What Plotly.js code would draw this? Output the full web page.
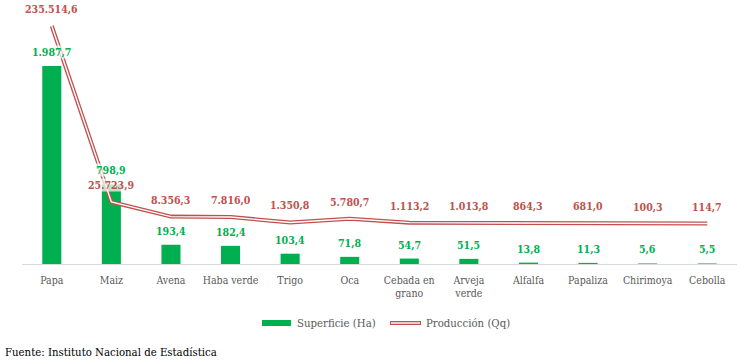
<!DOCTYPE html>
<html>
<head>
<meta charset="utf-8">
<script src="https://cdn.plot.ly/plotly-3.0.1.min.js"></script>
<style>html,body{margin:0;padding:0;background:#fff;}#chart{width:749px;height:364px;}</style>
</head>
<body>
<div id="chart"></div>
<script>
const categories = ["Papa","Maiz","Avena","Haba verde","Trigo","Oca","Cebada en<br>grano","Arveja<br>verde","Alfalfa","Papaliza","Chirimoya","Cebolla"];
const superficie = [1987.7, 798.9, 193.4, 182.4, 103.4, 71.8, 54.7, 51.5, 13.8, 11.3, 5.6, 5.5];
const produccion = [235514.6, 25723.9, 8356.3, 7816.0, 1350.8, 5780.7, 1113.2, 1013.8, 864.3, 681.0, 100.3, 114.7];
const seriesNames = ["Superficie (Ha)", "Producción (Qq)"];
const sourceText = "Fuente: Instituto Nacional de Estadística";

const GREEN = "#00B050";
const RED = "#C0504D";
const FONT = "DejaVu Serif Condensed, DejaVu Serif";

function fmt(v) {
  const parts = v.toFixed(1).split(".");
  parts[0] = parts[0].replace(/\B(?=(\d{3})+(?!\d))/g, ".");
  return parts[0] + "," + parts[1];
}

const L = 22, R = 12, T = 10, B = 100, W = 749, H = 364;
const pw = W - L - R, ph = H - T - B;
const px = x => (x - L) / pw;
const py = y => (H - B - y) / ph;

const traces = [
  {type: "bar", x: categories, y: superficie, name: seriesNames[0],
   marker: {color: GREEN}, showlegend: false, hoverinfo: "x+y"},
  {type: "scatter", mode: "lines", x: categories, y: produccion, yaxis: "y2",
   line: {color: RED, width: 4, shape: "linear"}, showlegend: false, hoverinfo: "skip"},
  {type: "scatter", mode: "lines", x: categories, y: produccion, yaxis: "y2",
   name: seriesNames[1], line: {color: "#ffffff", width: 1.4, shape: "linear"},
   showlegend: false, hoverinfo: "x+y"}
];

const annotations = [];
categories.forEach((c, i) => {
  annotations.push({x: c, y: superficie[i], xref: "x", yref: "y", yanchor: "middle", yshift: 14,
    text: "<b>" + fmt(superficie[i]) + "</b>", showarrow: false,
    font: {family: FONT, size: 10.5, color: GREEN}, bgcolor: "rgba(255,255,255,0.7)", borderpad: 0});
  annotations.push({x: c, y: produccion[i], xref: "x", yref: "y2", yanchor: "middle", yshift: 17,
    text: "<b>" + fmt(produccion[i]) + "</b>", showarrow: false,
    font: {family: FONT, size: 10.5, color: RED}, bgcolor: "rgba(255,255,255,0.7)", borderpad: 0});
});
annotations.push({xref: "paper", yref: "paper", x: px(295), y: py(323), xanchor: "left", yanchor: "middle",
  text: seriesNames[0], showarrow: false, font: {family: FONT, size: 11.3, color: "#595959"}});
annotations.push({xref: "paper", yref: "paper", x: px(424), y: py(323), xanchor: "left", yanchor: "middle",
  text: seriesNames[1], showarrow: false, font: {family: FONT, size: 11.3, color: "#595959"}});
annotations.push({xref: "paper", yref: "paper", x: px(3), y: py(352), xanchor: "left", yanchor: "middle",
  text: sourceText, showarrow: false, font: {family: FONT, size: 11.3, color: "#000000"}});

const shapes = [
  {type: "rect", xref: "paper", yref: "paper", x0: px(262), x1: px(291), y0: py(326), y1: py(320),
   fillcolor: GREEN, line: {width: 0}},
  {type: "line", xref: "paper", yref: "paper", x0: px(390), x1: px(421), y0: py(323), y1: py(323),
   line: {color: RED, width: 4}},
  {type: "line", xref: "paper", yref: "paper", x0: px(391), x1: px(420), y0: py(323), y1: py(323),
   line: {color: "#ffffff", width: 1.4}}
];

const layout = {
  width: W, height: H,
  margin: {l: L, r: R, t: T, b: B, pad: 0},
  paper_bgcolor: "#ffffff", plot_bgcolor: "#ffffff",
  showlegend: false, bargap: 0.68,
  font: {family: FONT},
  xaxis: {type: "category", showline: true, linecolor: "#d9d9d9", linewidth: 1,
    ticks: "", showgrid: false, zeroline: false,
    tickfont: {family: FONT, size: 10.5, color: "#595959"}, ticklabelstandoff: 6},
  yaxis: {range: [0, 2550], visible: false, fixedrange: true},
  yaxis2: {range: [-48150, 254600], overlaying: "y", side: "right", visible: false},
  annotations: annotations, shapes: shapes
};

Plotly.newPlot("chart", traces, layout, {displayModeBar: false, staticPlot: true});
</script>
</body>
</html>
